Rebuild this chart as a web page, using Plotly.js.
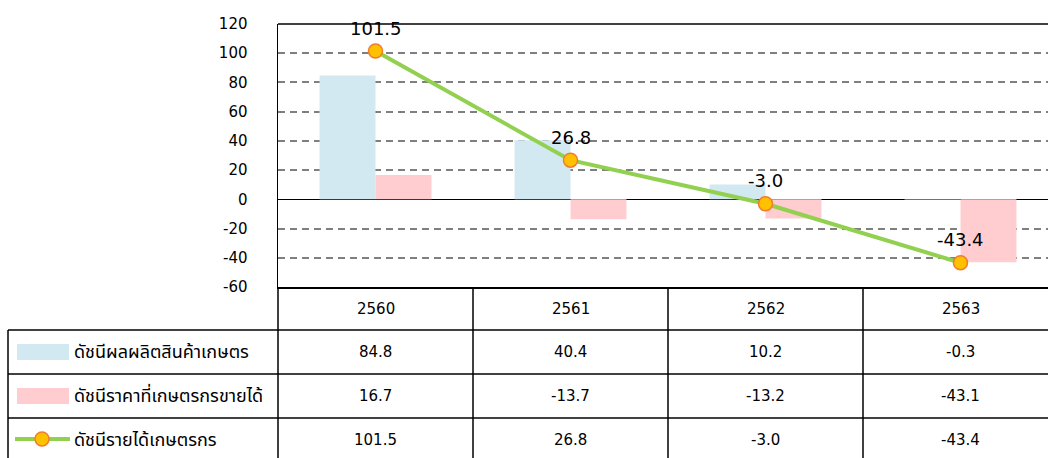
<!DOCTYPE html>
<html>
<head>
<meta charset="utf-8">
<script src="https://cdn.plot.ly/plotly-3.0.1.min.js"></script>
<style>html,body{margin:0;padding:0;background:#fff;}#chart{width:1048px;height:458px;}</style>
</head>
<body>
<div id="chart"></div>
<script>
var categories = ["2560", "2561", "2562", "2563"];
var seriesNames = ["ดัชนีผลผลิตสินค้าเกษตร", "ดัชนีราคาที่เกษตรกรขายได้", "ดัชนีรายได้เกษตรกร"];
var production = [84.8, 40.4, 10.2, -0.3];
var price = [16.7, -13.7, -13.2, -43.1];
var income = [101.5, 26.8, -3.0, -43.4];
var yTicks = [120, 100, 80, 60, 40, 20, 0, -20, -40, -60];

var W = 1048, H = 458, L = 278, T = 24, PB = 287;
var PH = PB - T;
function py(px) { return (PB - px) / PH; }

var FONT = "DejaVu Sans, Tahoma, sans-serif";
var THAI = "Tahoma, 'Noto Sans Thai', 'Leelawadee UI', 'DejaVu Sans', sans-serif";
var blue = "#d3e9f1", pink = "#ffcdd0", green = "#92d050", mfill = "#ffc000", mline = "#ed7d31";

var xIdx = categories.map(function (c, i) { return i; });

var traces = [
  { type: "bar", x: xIdx, y: production, name: seriesNames[0], marker: { color: blue }, hoverinfo: "skip" },
  { type: "bar", x: xIdx, y: price, name: seriesNames[1], marker: { color: pink }, hoverinfo: "skip" },
  { type: "scatter", mode: "lines+markers", x: xIdx, y: income, name: seriesNames[2],
    line: { color: green, width: 4 },
    marker: { color: mfill, size: 14, line: { color: mline, width: 1.5 } }, hoverinfo: "skip" }
];

var rowTop = [330, 374, 418];
var rowH = 44;
var colEdges = [-0.5, 0.5, 1.5, 2.5];

var shapes = [];
var annotations = [];
function kx(px) { return (px - L) / (W - L); }

// top frame
shapes.push({ type: "line", xref: "paper", yref: "paper", x0: 0, x1: 1.02, y0: 1, y1: 1, line: { color: "#000", width: 1.5 } });
// table horizontal lines
rowTop.forEach(function (t) {
  shapes.push({ type: "line", xref: "paper", yref: "paper", x0: kx(8), x1: 1.02, y0: py(t), y1: py(t), line: { color: "#000", width: 1.5 } });
});
// left border
shapes.push({ type: "line", xref: "paper", yref: "paper", x0: kx(8), x1: kx(8), y0: py(330), y1: py(470), line: { color: "#000", width: 1.5 } });
// axis continuation
shapes.push({ type: "line", xref: "paper", yref: "paper", x0: 0, x1: 0, y0: 0, y1: py(470), line: { color: "#000", width: 1.5 } });
// column dividers
colEdges.slice(1).forEach(function (e) {
  shapes.push({ type: "line", xref: "x", yref: "paper", x0: e, x1: e, y0: 0, y1: py(470), line: { color: "#000", width: 1.5 } });
});

// header labels
categories.forEach(function (c, i) {
  annotations.push({ xref: "x", yref: "paper", x: i, y: py(309), text: c, showarrow: false,
    font: { family: FONT, size: 15, color: "#000" }, xanchor: "center", yanchor: "middle" });
});
// row values and legend names
[production, price, income].forEach(function (arr, r) {
  arr.forEach(function (v, i) {
    annotations.push({ xref: "x", yref: "paper", x: i, y: py(rowTop[r] + rowH / 2), text: v.toFixed(1), showarrow: false,
      font: { family: FONT, size: 15, color: "#000" }, xanchor: "center", yanchor: "middle" });
  });
  annotations.push({ xref: "paper", yref: "paper", x: kx(72), y: py(rowTop[r] + rowH / 2), text: seriesNames[r], showarrow: false,
    font: { family: THAI, size: 18, color: "#000" }, xanchor: "left", yanchor: "middle" });
});
// legend keys
shapes.push({ type: "rect", xref: "paper", yref: "paper", x0: kx(17), x1: kx(69), y0: py(344), y1: py(360), fillcolor: blue, line: { width: 0 } });
shapes.push({ type: "rect", xref: "paper", yref: "paper", x0: kx(17), x1: kx(69), y0: py(388), y1: py(404), fillcolor: pink, line: { width: 0 } });
shapes.push({ type: "line", xref: "paper", yref: "paper", x0: kx(15), x1: kx(70), y0: py(439), y1: py(439), line: { color: green, width: 4 } });
shapes.push({ type: "circle", xref: "paper", yref: "paper", x0: kx(35), x1: kx(49), y0: py(432), y1: py(446), fillcolor: mfill, line: { color: mline, width: 1.5 } });

// data labels
income.forEach(function (v, i) {
  annotations.push({ xref: "x", yref: "y", x: i, y: v, text: v.toFixed(1), showarrow: false, yshift: 23,
    font: { family: FONT, size: 18, color: "#000" }, xanchor: "center", yanchor: "middle" });
});

var layout = {
  width: W, height: H,
  margin: { l: L, r: 0, t: T, b: H - PB, pad: 0 },
  paper_bgcolor: "#fff", plot_bgcolor: "#fff",
  showlegend: false,
  barmode: "group", bargap: 0.426, bargroupgap: 0,
  xaxis: { range: [-0.5, -0.5 + (W - L) / 195], showticklabels: false, ticks: "", showgrid: false, zeroline: false,
    showline: true, linecolor: "#000", linewidth: 1.5, fixedrange: true },
  yaxis: { range: [-60, 120], tickvals: yTicks, ticktext: yTicks.map(String), showgrid: true,
    gridcolor: "#7f7f7f", gridwidth: 2, griddash: "7px,5px",
    zeroline: true, zerolinecolor: "#000", zerolinewidth: 1,
    showline: true, linecolor: "#000", linewidth: 1.5, ticks: "", ticklabelstandoff: 26,
    tickfont: { family: FONT, size: 15, color: "#000" }, fixedrange: true },
  shapes: shapes,
  annotations: annotations
};

Plotly.newPlot("chart", traces, layout, { staticPlot: true, displayModeBar: false });
</script>
</body>
</html>
